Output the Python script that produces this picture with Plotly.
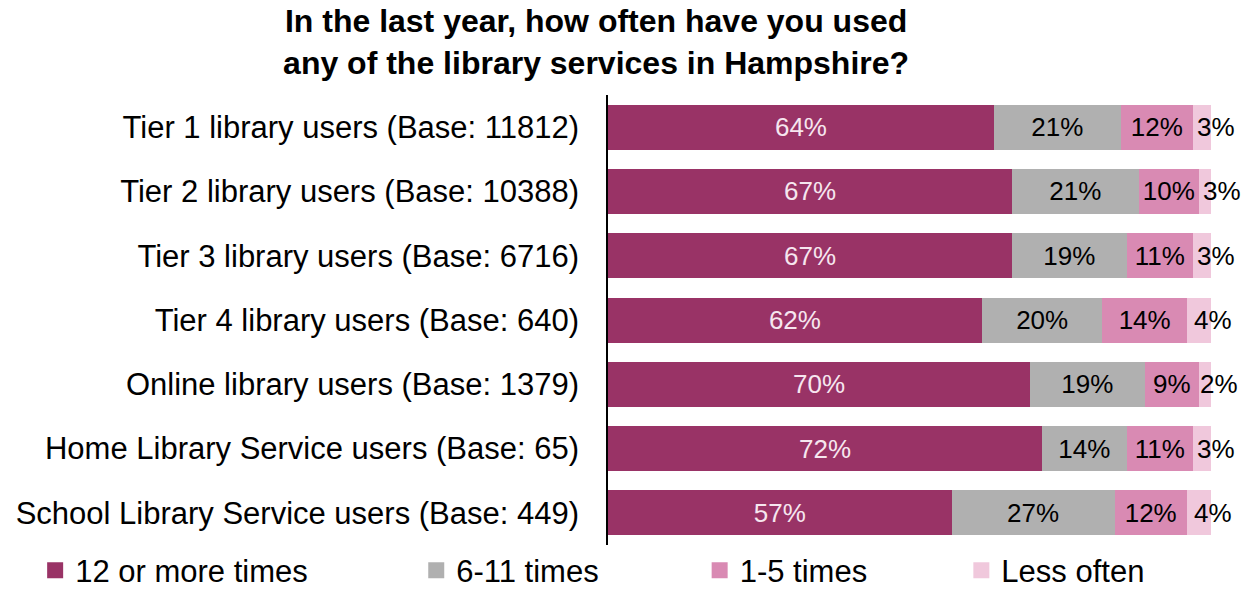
import plotly.graph_objects as go

categories = [
    "Tier 1 library users (Base: 11812)",
    "Tier 2 library users (Base: 10388)",
    "Tier 3 library users (Base: 6716)",
    "Tier 4 library users (Base: 640)",
    "Online library users (Base: 1379)",
    "Home Library Service users (Base: 65)",
    "School Library Service users (Base: 449)",
]
series_names = ["12 or more times", "6-11 times", "1-5 times", "Less often"]
v12_plus = [64, 67, 67, 62, 70, 72, 57]
v6_11 = [21, 21, 19, 20, 19, 14, 27]
v1_5 = [12, 10, 11, 14, 9, 11, 12]
v_less = [3, 3, 3, 4, 2, 3, 4]
series_values = [v12_plus, v6_11, v1_5, v_less]

colors = ["#993366", "#B0B0B0", "#D98AB3", "#F0C8DC"]
text_colors = ["#F6E6EF", "#000000", "#000000", "#000000"]
legend_ids = ["legend", "legend2", "legend3", "legend4"]
legend_x = [-0.950, -0.318, 0.152, 0.586]

FONT = "Liberation Sans, Arial, sans-serif"

fig = go.Figure()
n_series = len(series_names)
for i, (name, vals, c, tc, lg) in enumerate(zip(series_names, series_values, colors, text_colors, legend_ids)):
    last = i == n_series - 1
    fig.add_trace(go.Bar(
        y=categories, x=vals, name=name, orientation="h",
        marker=dict(color=c, line=dict(width=0)),
        text=None if last else [f"{v}%" for v in vals],
        textposition="inside",
        insidetextanchor="middle", textangle=0,
        textfont=dict(color=tc, size=26, family=FONT),
        constraintext="none", cliponaxis=False,
        showlegend=False,
    ))
    fig.add_trace(go.Scatter(
        x=[None], y=[None], mode="markers", name=name,
        marker=dict(symbol="square", size=16, color=c, line=dict(width=0)),
        legend=lg, showlegend=True,
    ))

# labels for the thin last segment, centred on it (slightly nudged right like the original)
for k, cat in enumerate(categories):
    start = sum(series_values[j][k] for j in range(n_series - 1))
    v = v_less[k]
    fig.add_annotation(
        x=start + v / 2, y=cat, xref="x", yref="y",
        text=f"{v}%", showarrow=False, xanchor="center", xshift=14,
        font=dict(size=26, family=FONT, color="black"),
    )

legend_common = dict(
    orientation="h", y=-0.117, yanchor="bottom", xanchor="left",
    font=dict(size=31, family=FONT, color="black"),
    itemwidth=30, bgcolor="rgba(0,0,0,0)", itemsizing="trace",
)
layout_legends = {}
for lg, lx in zip(legend_ids, legend_x):
    layout_legends[lg] = dict(legend_common, x=lx)

fig.update_layout(
    width=1251, height=589,
    barmode="stack", bargap=0.3,
    plot_bgcolor="white", paper_bgcolor="white",
    margin=dict(l=608, r=40, t=95, b=44, autoexpand=False),
    uniformtext=dict(minsize=26, mode="show"),
    title=dict(
        text="<b>In the last year, how often have you used<br>any of the library services in Hampshire?</b>",
        x=0.4765, xanchor="center", y=0.945, yanchor="middle",
        font=dict(family=FONT, size=32, color="black"),
    ),
    font=dict(family=FONT, color="black"),
    **layout_legends,
)
fig.update_xaxes(range=[0, 100], visible=False, showgrid=False)
fig.update_yaxes(
    autorange="reversed", showgrid=False, showline=True, linecolor="black", linewidth=1.5,
    ticks="", ticklabelstandoff=21, automargin=False,
    tickfont=dict(size=31, family=FONT, color="black"),
)

fig.write_html("out.html", config={"displayModeBar": False},
               post_script="document.body.style.margin='0';")
